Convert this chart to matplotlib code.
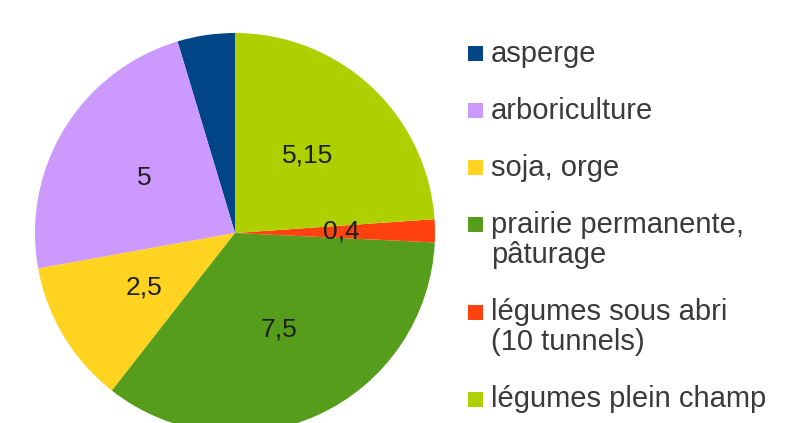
import numpy as np
import matplotlib.pyplot as plt
from matplotlib.patches import Rectangle

# données
cultures = ['asperge', 'arboriculture', 'soja, orge',
            'prairie permanente,\npâturage', 'légumes sous abri\n(10 tunnels)',
            'légumes plein champ']
surfaces = [1, 5, 2.5, 7.5, 0.4, 5.15]
etiquettes = ['', '5', '2,5', '7,5', '0,4', '5,15']
couleurs = ['#004586', '#cc99ff', '#ffd320', '#579d1c', '#ff420e', '#aecf00']

plt.rcParams['font.family'] = ['Liberation Sans', 'DejaVu Sans']

W, H = 796, 423
fig = plt.figure(figsize=(W / 100, H / 100), dpi=100)
ax = fig.add_axes([35 / W, -10 / H, 400 / W, 400 / H])

wedges, _ = ax.pie(surfaces, colors=couleurs, startangle=90, counterclock=True,
                   wedgeprops={'linewidth': 0})

# étiquettes de valeur à l'intérieur des parts
for w, txt in zip(wedges, etiquettes):
    if not txt:
        continue
    ang = np.deg2rad((w.theta1 + w.theta2) / 2)
    ax.text(0.53 * np.cos(ang), 0.53 * np.sin(ang), txt, ha='center', va='center',
            fontsize=19, color='#1e1e1e')

ax.set_xlim(-1, 1)
ax.set_ylim(-1, 1)
ax.set_aspect('equal')

# légende faite à la main : carré aligné sur la première ligne du libellé
y = 54
for nom, c in zip(cultures, couleurs):
    fig.patches.append(Rectangle((468 / W, 1 - (y + 7.5) / H), 15 / W, 15 / H,
                                 transform=fig.transFigure, facecolor=c, edgecolor='none'))
    lignes = nom.split('\n')
    for i, l in enumerate(lignes):
        fig.text(491 / W, 1 - (y + 30 * i) / H, l, ha='left', va='center',
                 fontsize=21, color='#3a3a3a')
    y += 57 + 30 * (len(lignes) - 1)

plt.savefig('out.png', dpi=100)
